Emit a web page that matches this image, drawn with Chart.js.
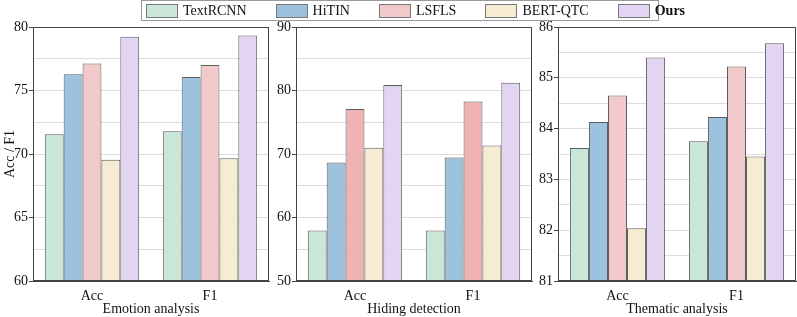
<!DOCTYPE html>
<html>
<head>
<meta charset="utf-8">
<script src="https://cdn.jsdelivr.net/npm/chart.js@4"></script>
<style>
  body { margin: 0; background: #fff; }
  #wrap { position: relative; width: 797px; height: 317px; font-family: "Liberation Serif", "Times New Roman", serif; }
  canvas { position: absolute; top: 0; }
  #legend {
    position: absolute; left: 141px; top: 0; width: 518px; height: 21px;
    border: 1px solid #9a9a9a; display: flex; align-items: center; white-space: nowrap;
    padding-left: 4px; box-sizing: border-box; gap: 29px; font-size: 14px; color: #111; z-index: 2; background: #fff;
  }
  #legend span.item { display: flex; align-items: center; }
  #legend i { display: inline-block; width: 32px; height: 14px; border: 1px solid #777; margin-right: 5px; box-sizing: border-box; }
</style>
</head>
<body>
<div id="wrap">
  <div id="legend"></div>
  <canvas id="c1" width="271" height="317" style="left:0px"></canvas>
  <canvas id="c2" width="271" height="317" style="left:263px"></canvas>
  <canvas id="c3" width="272" height="317" style="left:525px"></canvas>
</div>
<script>
const categories = ["Acc", "F1"];
const models = ["TextRCNN", "HiTIN", "LSFLS", "BERT-QTC", "Ours"];

// values per model, same order as models
const emotionAcc = [71.55, 76.28, 77.12, 69.55, 79.24];
const emotionF1 = [71.80, 76.07, 77.01, 69.67, 79.34];
const hidingAcc = [57.96, 68.66, 77.10, 71.00, 80.88];
const hidingF1 = [57.96, 69.45, 78.25, 71.33, 81.24];
const thematicAcc = [83.62, 84.13, 84.65, 82.04, 85.40];
const thematicF1 = [83.75, 84.23, 85.22, 83.45, 85.68];

const panelTitles = ["Emotion analysis", "Hiding detection", "Thematic analysis"];
const yMin = [60, 50, 81];
const yMax = [80, 90, 86];
const yMajor = [5, 10, 1];

const colors = ["#c9e6d6", "#9dc2de", "#f2c9cb", "#f6ebd3", "#e2d5f1"];
const colorsHiding = ["#c9e6d6", "#9dc2de", "#efb3b3", "#f6ebd3", "#e2d5f1"];

const FONT = "'Liberation Serif', 'Times New Roman', serif";

// legend
const legend = document.getElementById("legend");
models.forEach(function (m, i) {
  const item = document.createElement("span");
  item.className = "item";
  item.innerHTML = '<i style="background:' + colors[i] + '"></i>' +
    (m === "Ours" ? "<b>" + m + "</b>" : m);
  legend.appendChild(item);
});

const framePlugin = {
  id: "frame",
  afterDraw(chart) {
    const a = chart.chartArea;
    const ctx = chart.ctx;
    ctx.save();
    ctx.strokeStyle = "#444";
    ctx.lineWidth = 1;
    ctx.strokeRect(Math.round(a.left) + 0.5, Math.round(a.top) + 0.5,
      Math.round(a.right - a.left) - 1, Math.round(a.bottom - a.top) - 1);
    ctx.restore();
  },
};

function makePanel(id, idx, acc, f1, palette, showTitle, padRight) {
  const datasets = models.map(function (m, i) {
    return {
      label: m,
      data: [acc[i], f1[i]],
      backgroundColor: palette[i],
      borderColor: "#5c5c5c",
      borderWidth: 1,
      borderSkipped: false,
      barPercentage: 1.0,
      categoryPercentage: 0.8,
    };
  });
  const major = yMajor[idx];
  new Chart(document.getElementById(id).getContext("2d"), {
    type: "bar",
    data: { labels: categories, datasets: datasets },
    plugins: [framePlugin],
    options: {
      responsive: false,
      animation: false,
      layout: { padding: { top: 27, right: padRight, left: 0, bottom: 0 } },
      plugins: { legend: { display: false }, tooltip: { enabled: false } },
      scales: {
        x: {
          grid: { display: false, drawTicks: false },
          border: { display: true, color: "#444" },
          ticks: { color: "#111", font: { family: FONT, size: 14 }, padding: 7 },
          title: {
            display: true, text: panelTitles[idx], color: "#111",
            font: { family: FONT, size: 14 }, padding: { top: 0, bottom: -1 },
          },
          afterFit: function (s) { s.height = 36; },
        },
        y: {
          min: yMin[idx],
          max: yMax[idx],
          grid: {
            color: "#dcdcdc",
            tickLength: 4,
            tickColor: function (c) {
              return c.tick && Math.abs(c.tick.value / major - Math.round(c.tick.value / major)) < 1e-6 ? "#444" : "rgba(0,0,0,0)";
            },
          },
          border: { display: true, color: "#444" },
          ticks: {
            stepSize: major / 2,
            padding: 1,
            color: "#111",
            font: { family: FONT, size: 14 },
            callback: function (v) {
              return Math.abs(v / major - Math.round(v / major)) < 1e-6 ? v : "";
            },
          },
          title: {
            display: showTitle, text: "Acc / F1", color: "#111",
            font: { family: FONT, size: 14 }, padding: { top: 2, bottom: 0 },
          },
          afterFit: function (s) { s.width = 33; },
        },
      },
    },
  });
}

makePanel("c1", 0, emotionAcc, emotionF1, colors, true, 2);
makePanel("c2", 1, hidingAcc, hidingF1, colorsHiding, false, 2);
makePanel("c3", 2, thematicAcc, thematicF1, colors, false, 1);
</script>
</body>
</html>
